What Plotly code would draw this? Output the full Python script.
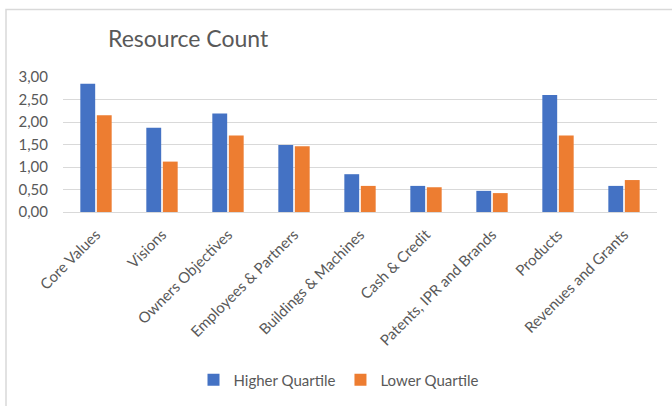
import plotly.graph_objects as go

categories = ["Core Values", "Visions", "Owners Objectives", "Employees & Partners",
              "Buildings & Machines", "Cash & Credit", "Patents, IPR and Brands",
              "Products", "Revenues and Grants"]
higher_quartile = [2.85, 1.87, 2.19, 1.49, 0.84, 0.58, 0.47, 2.60, 0.58]
lower_quartile = [2.15, 1.12, 1.70, 1.46, 0.58, 0.55, 0.42, 1.70, 0.71]
y_ticks = [0, 0.5, 1.0, 1.5, 2.0, 2.5, 3.0]

FONT = "Lato, 'Open Sans', sans-serif"
GRAY = "#595959"

fig = go.Figure()
fig.add_trace(go.Bar(name="Higher Quartile", x=categories, y=higher_quartile,
                     marker=dict(color="#4472C4", line=dict(width=0))))
fig.add_trace(go.Bar(name="Lower Quartile", x=categories, y=lower_quartile,
                     marker=dict(color="#ED7D31", line=dict(width=0))))

L, R, T, B = 63, 15, 77, 193
W, H = 672, 406
pw = W - L - R
ph = H - T - B

def px(x):
    return (x - L) / pw

def py(y):
    return (H - B - y) / ph

fig.update_layout(
    width=W, height=H,
    margin=dict(l=L, r=R, t=T, b=B, pad=0),
    paper_bgcolor="white", plot_bgcolor="white",
    separators=",.",
    barmode="group", bargap=0.5, bargroupgap=0.1,
    font=dict(family=FONT, color=GRAY, size=13),
    showlegend=True,
    legend=dict(orientation="h", x=px(339), xanchor="center", y=py(380), yanchor="middle",
                font=dict(size=15, color=GRAY), itemwidth=30, traceorder="normal",
                bgcolor="rgba(0,0,0,0)"),
    xaxis=dict(tickangle=-45, tickfont=dict(size=15, color=GRAY), showgrid=False,
               showline=False, ticks="", zeroline=False,
               ticklabelstandoff=10, ticklabelshift=0),
    yaxis=dict(range=[0, 3.0], tickvals=y_ticks, tickformat=".2f",
               tickfont=dict(size=15, color=GRAY), showgrid=True, gridcolor="#d9d9d9",
               gridwidth=1, zeroline=True, zerolinecolor="#d9d9d9", zerolinewidth=1,
               showline=False, ticks="", ticklabelstandoff=14),
    annotations=[dict(text="Resource Count", xref="paper", yref="paper",
                      x=px(106), y=py(38), xanchor="left", yanchor="middle",
                      showarrow=False, font=dict(size=23, color=GRAY, family=FONT))],
    shapes=[dict(type="rect", xref="paper", yref="paper",
                 x0=px(6), x1=px(690), y0=py(420), y1=py(9),
                 line=dict(color="#d9d9d9", width=1.5), fillcolor="rgba(0,0,0,0)",
                 layer="below")],
)

fig.write_html("out.html", post_script="document.body.style.margin='0';",
               config={"displayModeBar": False})
